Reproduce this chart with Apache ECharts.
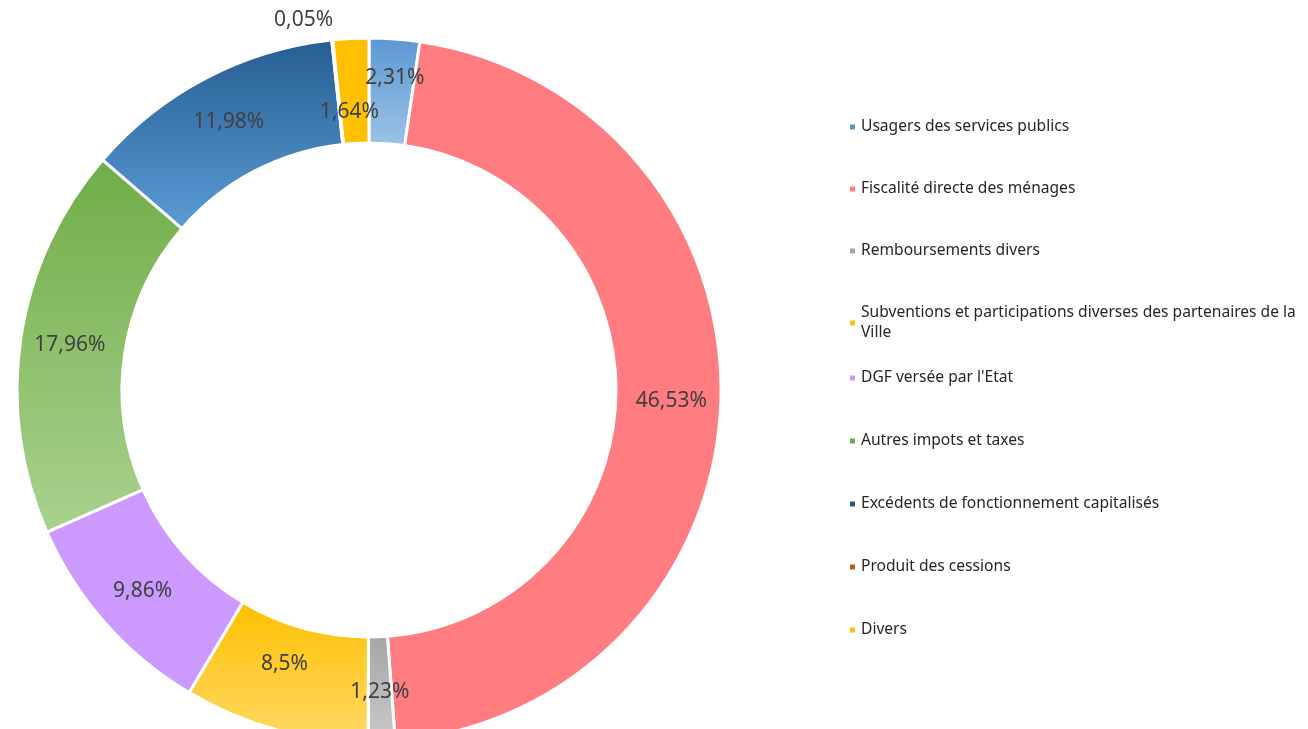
<!DOCTYPE html>
<html>
<head>
<meta charset="utf-8">
<script src="https://cdn.jsdelivr.net/npm/echarts@6/dist/echarts.min.js"></script>
<style>
  html, body { margin: 0; padding: 0; background: #fff; }
  #chart { width: 1308px; height: 729px; }
</style>
</head>
<body>
<div id="chart"></div>
<script>
// postes de recettes (ordre horaire depuis midi)
const categories = [
  'Usagers des services publics',
  'Fiscalité directe des ménages',
  'Remboursements divers',
  'Subventions et participations diverses des partenaires de la Ville',
  "DGF versée par l'Etat",
  'Autres impots et taxes',
  'Excédents de fonctionnement capitalisés',
  'Produit des cessions',
  'Divers'
]
const values = [2.31, 46.53, 1.23, 8.5, 9.86, 17.96, 11.98, 0.05, 1.64]
// couleur haut / bas du dégradé de chaque part
const topColors = ['#5b97d3', '#ff7c80', '#a5a5a5', '#ffc000', '#cc99ff', '#70ad47', '#255e91', '#c55a11', '#ffc000']
const bottomColors = ['#9dc3e6', '#ff7c80', '#cacaca', '#ffd966', '#cc99ff', '#a9d18e', '#5b9bd5', '#f4b183', '#ffc000']

// petits décalages d'étiquettes pour coller à la mise en page d'origine
const labelShift = { 0: [4, -10], 3: [-4, -18], 8: [-4, 24] }

const chart = echarts.init(document.getElementById('chart'))

const pieData = categories.map((name, i) => {
  const item = {
    name: name,
    value: values[i],
    itemStyle: {
      color: new echarts.graphic.LinearGradient(0, 0, 0, 1, [
        { offset: 0, color: topColors[i] },
        { offset: 1, color: bottomColors[i] }
      ])
    }
  }
  if (labelShift[i]) {
    item.label = { offset: labelShift[i] }
  }
  // la toute petite part a son étiquette à l'extérieur
  if (values[i] < 0.5) {
    item.label = { position: 'outside', color: '#404040', offset: [8, 0] }
    item.labelLine = { show: false, length: 20, length2: 0 }
  }
  return item
})

const legendText = {
  fontFamily: 'Noto Sans',
  fontSize: 15.6,
  color: '#262626',
  lineHeight: 20
}
const legendItem = (name) => ({
  name: name,
  itemStyle: { color: topColors[categories.indexOf(name)] }
})

const option = {
  animation: false,
  legend: [
    {
      orient: 'vertical',
      left: 843,
      top: 112,
      itemWidth: 7,
      itemHeight: 7,
      itemGap: 42,
      icon: 'rect',
      data: categories.slice(0, 4).map(legendItem),
      textStyle: legendText,
      formatter: (name) => name.replace(' de la Ville', ' de la\nVille')
    },
    {
      orient: 'vertical',
      left: 843,
      top: 363,
      itemWidth: 7,
      itemHeight: 7,
      itemGap: 43,
      icon: 'rect',
      data: categories.slice(4).map(legendItem),
      textStyle: legendText
    }
  ],
  series: [{
    type: 'pie',
    center: [369, 390],
    radius: [247, 352],
    startAngle: 90,
    clockwise: true,
    avoidLabelOverlap: false,
    labelLayout: { hideOverlap: false },
    itemStyle: {
      borderColor: '#fff',
      borderWidth: 3
    },
    label: {
      show: true,
      position: 'inside',
      fontFamily: 'Noto Sans',
      fontSize: 21,
      color: '#404040',
      formatter: (p) => String(p.value).replace('.', ',') + '%'
    },
    emphasis: { disabled: true },
    data: pieData
  }]
}
chart.setOption(option)
</script>
</body>
</html>
